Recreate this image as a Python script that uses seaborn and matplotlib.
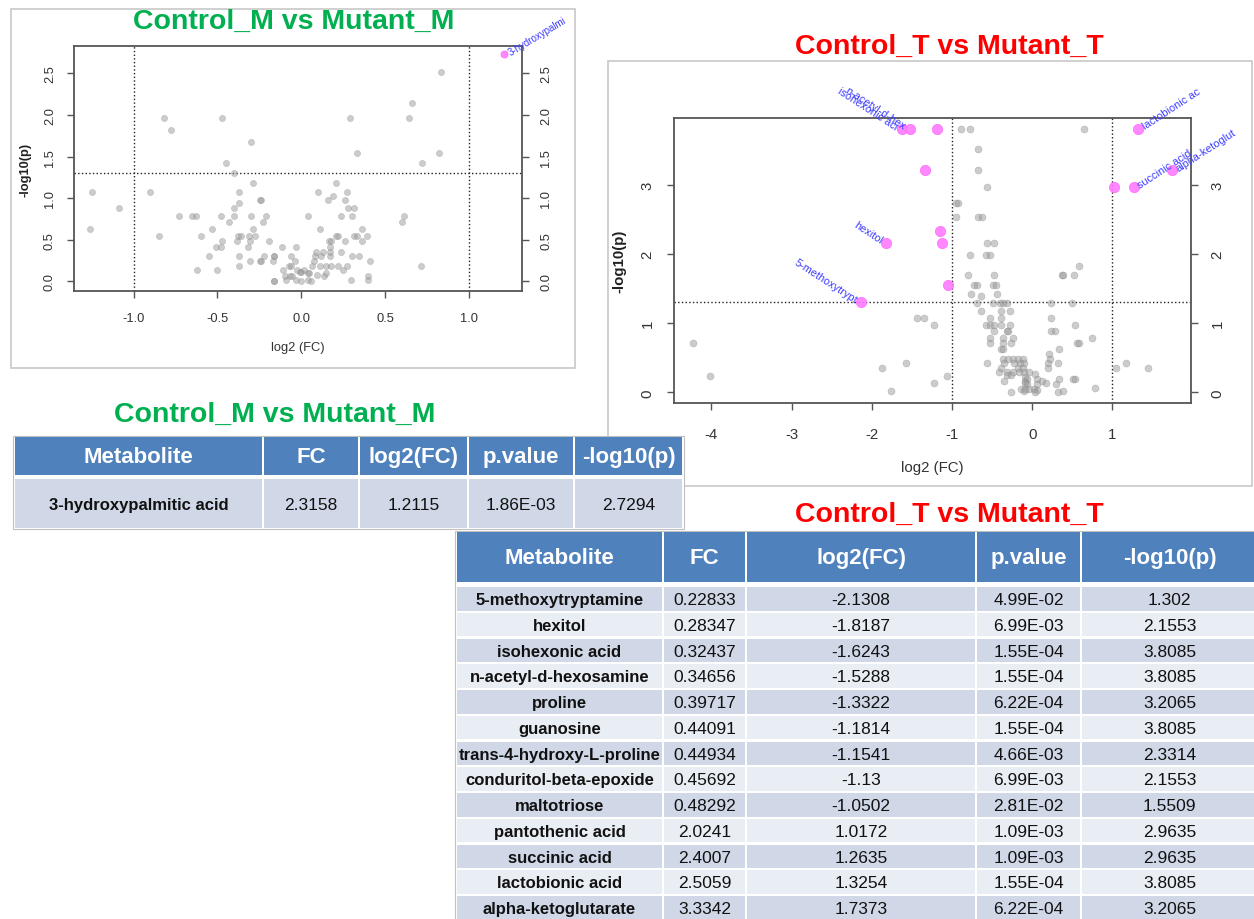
import numpy as np
import matplotlib
matplotlib.use('Agg')
import matplotlib.pyplot as plt
from matplotlib.patches import Rectangle
import seaborn as sns

# ---- volcano data: Control_M vs Mutant_M (grey, not significant) ----
m_log2fc = [-1.25, -1.26, -1.09, -0.90, -0.85, -0.82, -0.78, -0.73, -0.65, -0.63,
            -0.62, -0.60, -0.55, -0.53, -0.51, -0.48, -0.50, -0.48, -0.47, -0.47,
            -0.45, -0.43, -0.40, -0.40, -0.40, -0.38, -0.36, -0.385, -0.37, -0.37,
            -0.37, -0.37, -0.32, -0.31, -0.305, -0.30, -0.30, -0.305, -0.29, -0.29,
            -0.275, -0.245, -0.24, -0.245, -0.24, -0.225, -0.23, -0.21, -0.19, -0.165,
            -0.16, -0.17, -0.165, -0.16, -0.115, -0.11, -0.095, -0.09, -0.075, -0.06,
            -0.07, -0.06, -0.055, -0.04, -0.03, -0.03, -0.025, -0.01, 0.0, 0.0,
            0.015, 0.04, 0.045, 0.04, 0.04, 0.06, 0.065, 0.075, 0.08, 0.09,
            0.095, 0.10, 0.11, 0.11, 0.12, 0.13, 0.135, 0.145, 0.15, 0.16,
            0.165, 0.175, 0.17, 0.17, 0.17, 0.175, 0.19, 0.21, 0.205, 0.22,
            0.22, 0.235, 0.24, 0.25, 0.26, 0.26, 0.27, 0.27, 0.28, 0.315,
            0.29, 0.30, 0.295, 0.30, 0.315, 0.33, 0.33, 0.345, 0.36, 0.365,
            0.39, 0.40, 0.40, 0.41, 0.60, 0.61, 0.64, 0.66, 0.715, 0.72,
            0.82, 0.835]
m_neglogp = [1.07, 0.63, 0.88, 1.07, 0.55, 1.97, 1.82, 0.79, 0.79, 0.79,
             0.14, 0.55, 0.30, 0.63, 0.41, 0.41, 0.14, 0.79, 1.97, 0.48,
             1.42, 0.71, 0.79, 0.88, 1.30, 0.55, 0.55, 0.48, 1.07, 0.94,
             0.30, 0.19, 0.41, 0.55, 0.48, 1.68, 0.79, 0.24, 0.63, 1.18,
             0.55, 0.24, 0.24, 0.98, 0.98, 0.30, 0.71, 0.79, 0.48, 0.30,
             0.30, 0.24, 0.0, 0.0, 0.41, 0.14, 0.07, 0.02, 0.19, 0.19,
             0.07, 0.30, 0.06, 0.24, 0.41, 0.02, 0.14, 0.11, 0.11, 0.0,
             0.14, 0.10, 0.10, 0.02, 0.79, 0.01, 0.19, 0.24, 0.30, 0.35,
             0.08, 1.07, 0.63, 0.19, 0.30, 0.35, 0.07, 0.19, 0.10, 0.98,
             0.48, 0.48, 0.41, 0.30, 0.35, 0.19, 1.03, 1.18, 0.55, 0.55,
             0.19, 0.79, 0.35, 0.14, 0.98, 0.48, 1.07, 0.19, 0.88, 0.88,
             1.97, 0.30, 0.02, 0.79, 0.55, 0.55, 1.54, 0.30, 0.63, 0.48,
             0.55, 0.06, 0.02, 0.24, 0.71, 0.79, 1.97, 2.15, 0.19, 1.42,
             1.54, 2.52]

# ---- volcano data: Control_T vs Mutant_T (grey, not significant) ----
t_log2fc = [-4.23, -4.02, -1.87, -1.76, -1.57, -1.43, -1.35, -1.23, -1.22, -1.06,
            -0.89, -0.78, -0.67, -0.67, -0.56, -0.95, -0.93, -0.95, -0.67, -0.62,
            -0.56, -0.47, -0.77, -0.57, -0.52, -0.80, -0.47, -0.72, -0.69, -0.49,
            -0.45, -0.76, -0.64, -0.44, -0.69, -0.49, -0.40, -0.36, -0.32, -0.64,
            -0.39, -0.28, -0.53, -0.39, -0.58, -0.53, -0.48, -0.39, -0.28, -0.48,
            -0.32, -0.30, -0.53, -0.36, -0.24, -0.53, -0.36, -0.27, -0.39, -0.36,
            -0.36, -0.30, -0.24, -0.18, -0.11, -0.56, -0.35, -0.23, -0.15, -0.10,
            0.20, 0.32, -0.39, -0.18, -0.11, -0.41, -0.32, -0.24, -0.17, -0.10,
            -0.04, -0.31, -0.27, -0.35, -0.09, -0.09, -0.06, 0.06, 0.12, 0.04,
            -0.09, -0.06, 0.06, 0.17, -0.14, -0.09, -0.04, 0.02, 0.06, -0.27,
            -0.10, 0.04, 0.24, 0.23, 0.24, 0.29, 0.21, 0.22, 0.20, 0.34,
            0.34, 0.37, 0.39, 0.52, 0.59, 0.50, 0.53, 0.56, 0.59, 0.74,
            0.30, 0.32, 0.38, 0.51, 0.53, 0.78, 0.65, 1.04, 1.17, 1.44]
t_neglogp = [0.71, 0.24, 0.35, 0.02, 0.42, 1.08, 1.08, 0.98, 0.14, 0.24,
             3.81, 3.81, 3.51, 3.21, 2.97, 2.74, 2.74, 2.53, 2.53, 2.53,
             2.16, 2.16, 1.98, 1.98, 1.98, 1.69, 1.69, 1.55, 1.55, 1.55,
             1.55, 1.42, 1.39, 1.42, 1.29, 1.29, 1.29, 1.29, 1.29, 1.18,
             1.18, 1.18, 1.08, 1.08, 0.98, 0.98, 0.98, 0.98, 0.98, 0.88,
             0.88, 0.88, 0.79, 0.79, 0.79, 0.71, 0.71, 0.71, 0.63, 0.63,
             0.48, 0.48, 0.48, 0.48, 0.48, 0.42, 0.42, 0.42, 0.42, 0.42,
             0.42, 0.42, 0.35, 0.35, 0.35, 0.30, 0.30, 0.30, 0.30, 0.30,
             0.30, 0.25, 0.25, 0.17, 0.17, 0.22, 0.19, 0.19, 0.17, 0.27,
             0.14, 0.12, 0.12, 0.14, 0.05, 0.05, 0.05, 0.05, 0.03, 0.01,
             0.02, 0.01, 1.08, 1.29, 0.88, 0.88, 0.55, 0.48, 0.35, 0.63,
             0.19, 1.69, 1.69, 1.69, 1.83, 1.29, 0.98, 0.71, 0.71, 0.79,
             0.12, 0.0, 0.02, 0.19, 0.19, 0.06, 3.81, 0.35, 0.42, 0.35]

# ---- significant metabolites (tables + pink points) ----
m_names = ['3-hydroxypalmitic acid']
m_fc = [2.3158]
m_sig_log2fc = [1.2115]
m_pvalue = [1.86e-03]
m_sig_neglogp = [2.7294]

t_names = ['5-methoxytryptamine', 'hexitol', 'isohexonic acid', 'n-acetyl-d-hexosamine',
           'proline', 'guanosine', 'trans-4-hydroxy-L-proline', 'conduritol-beta-epoxide',
           'maltotriose', 'pantothenic acid', 'succinic acid', 'lactobionic acid',
           'alpha-ketoglutarate']
t_fc = [0.22833, 0.28347, 0.32437, 0.34656, 0.39717, 0.44091, 0.44934, 0.45692,
        0.48292, 2.0241, 2.4007, 2.5059, 3.3342]
t_sig_log2fc = [-2.1308, -1.8187, -1.6243, -1.5288, -1.3322, -1.1814, -1.1541, -1.13,
                -1.0502, 1.0172, 1.2635, 1.3254, 1.7373]
t_pvalue = [4.99e-02, 6.99e-03, 1.55e-04, 1.55e-04, 6.22e-04, 1.55e-04, 4.66e-03,
            6.99e-03, 2.81e-02, 1.09e-03, 1.09e-03, 1.55e-04, 6.22e-04]
t_sig_neglogp = [1.302, 2.1553, 3.8085, 3.8085, 3.2065, 3.8085, 2.3314, 2.1553,
                 1.5509, 2.9635, 2.9635, 3.8085, 3.2065]

m_labeled = ['3-hydroxypalmitic acid']
t_labeled = ['5-methoxytryptamine', 'hexitol', 'isohexonic acid', 'n-acetyl-d-hexosamine',
             'succinic acid', 'lactobionic acid', 'alpha-ketoglutarate']

table_headers = ['Metabolite', 'FC', 'log2(FC)', 'p.value', '-log10(p)']
title_m = 'Control_M vs Mutant_M'
title_t = 'Control_T vs Mutant_T'

sns.set_style('white')
plt.rcParams['font.family'] = ['Liberation Sans', 'DejaVu Sans']
plt.rcParams['axes.unicode_minus'] = False

W, H = 1254, 920
fig = plt.figure(figsize=(W / 100, H / 100), dpi=100)


def px_rect(x0, y0, x1, y1):
    return [x0 / W, 1 - y1 / H, (x1 - x0) / W, (y1 - y0) / H]


def pixel_axes(z):
    a = fig.add_axes([0, 0, 1, 1], zorder=z)
    a.set_xlim(0, W)
    a.set_ylim(H, 0)
    a.axis('off')
    return a


bg = pixel_axes(0)
bg.add_patch(Rectangle((11, 10), 564, 359, fill=False, ec='#c8c8c8', lw=1.2))
bg.add_patch(Rectangle((608, 62), 644, 425, fill=False, ec='#c8c8c8', lw=1.2))

GREEN = '#00b050'
RED = '#ff0000'
TITLE_FS = 20.5
bg.text(294, 22, title_m, color=GREEN, fontsize=TITLE_FS, fontweight='bold', ha='center', va='center')
bg.text(949, 47, title_t, color=RED, fontsize=TITLE_FS, fontweight='bold', ha='center', va='center')


def volcano(ax, gx, gy, names, sx, sy, labeled, xlim, ylim, xticks, yticks,
            fs, gsize, hsize, rot, lab_fs, xlab_y, ylab_x, pads):
    sns.scatterplot(x=gx, y=gy, ax=ax, color='#9a9a9a', alpha=0.5, s=gsize,
                    edgecolor='#7a7a7a', linewidth=0.3, legend=False, zorder=3)
    sns.scatterplot(x=sx, y=sy, ax=ax, color='#ff7aff', alpha=0.9, s=hsize,
                    edgecolor='#ff60ff', linewidth=0.5, legend=False, zorder=4, clip_on=False)
    for v in (-1, 1):
        ax.axvline(v, ls=':', color='#222222', lw=1.0, zorder=2)
    ax.axhline(-np.log10(0.05), ls=':', color='#222222', lw=1.0, zorder=2)
    for x, y, n in zip(sx, sy, names):
        if n not in labeled:
            continue
        if x > 0:
            ax.annotate(n[:14], (x, y), xytext=(3.5, 1.5), textcoords='offset points',
                        rotation=rot, rotation_mode='anchor', ha='left', va='center',
                        color='#3a3aff', fontsize=lab_fs, annotation_clip=False, zorder=5)
        else:
            ax.annotate(n[:14], (x, y), xytext=(-3.5, 1.5), textcoords='offset points',
                        rotation=-rot, rotation_mode='anchor', ha='right', va='center',
                        color='#3a3aff', fontsize=lab_fs, annotation_clip=False, zorder=5)
    ax.set_xlim(*xlim)
    ax.set_ylim(*ylim)
    ax.set_xticks(xticks[0], xticks[1])
    ax.set_yticks(yticks[0], yticks[1])
    ax.tick_params(axis='both', direction='out', length=5, width=1.0, color='#555555',
                   labelsize=fs, labelcolor='#333333')
    ax.tick_params(axis='x', bottom=True, pad=pads[0])
    ax.tick_params(axis='y', left=True, right=True, labelleft=True, labelright=True, pad=pads[1])
    for t in ax.yaxis.get_major_ticks():
        for lab in (t.label1, t.label2):
            lab.set_rotation(90)
            lab.set_va('center')
    for sp in ax.spines.values():
        sp.set_color('#555555')
        sp.set_linewidth(1.3)
    ax.set_xlabel('log2 (FC)', fontsize=fs, color='#333333')
    ax.set_ylabel('-log10(p)', fontsize=fs, color='#222222', fontweight='bold')
    ax.xaxis.label.set_va('center')
    ax.yaxis.label.set_va('center')
    ax.xaxis.set_label_coords(0.5, xlab_y)
    ax.yaxis.set_label_coords(ylab_x, 0.5)


ax_m = fig.add_axes(px_rect(74, 47, 522, 292), zorder=1)
volcano(ax_m, m_log2fc, m_neglogp, m_names, m_sig_log2fc, m_sig_neglogp, m_labeled,
        (-1.356, 1.317), (-0.116, 2.83),
        ([-1, -0.5, 0, 0.5, 1], ['-1.0', '-0.5', '0.0', '0.5', '1.0']),
        ([0, 0.5, 1, 1.5, 2, 2.5], ['0.0', '0.5', '1.0', '1.5', '2.0', '2.5']),
        9.3, 20, 26, 31, 7.0, -0.229, -0.109, (10, 8))

ax_t = fig.add_axes(px_rect(674, 119, 1191, 404), zorder=1)
volcano(ax_t, t_log2fc, t_neglogp, t_names, t_sig_log2fc, t_sig_neglogp, t_labeled,
        (-4.465, 1.98), (-0.154, 3.965),
        ([-4, -3, -2, -1, 0, 1], ['-4', '-3', '-2', '-1', '0', '1']),
        ([0, 1, 2, 3], ['0', '1', '2', '3']),
        10.8, 26, 55, 33, 7.8, -0.2246, -0.106, (12, 9))

# ---- tables ----
fg = pixel_axes(5)
HEAD = '#4f81bd'
ROW_DARK = '#d0d8e8'
ROW_LIGHT = '#e9edf4'


def draw_table(x_edges, head_top, head_bot, row_top0, row_pitch, row_h, rows):
    fg.add_patch(Rectangle((x_edges[0] - 1, head_top - 1), x_edges[-1] - x_edges[0] + 2,
                           row_top0 + row_pitch * (len(rows) - 1) + row_h - head_top + 2,
                           fc='white', ec='#c0c0c0', lw=0.8))
    for i, h in enumerate(table_headers):
        x0, x1 = x_edges[i] + 1, x_edges[i + 1] - 1
        fg.add_patch(Rectangle((x0, head_top), x1 - x0, head_bot - head_top, fc=HEAD, ec='none'))
        fg.text((x0 + x1) / 2, (head_top + head_bot) / 2 + 1, h, color='white', fontsize=16,
                fontweight='bold', ha='center', va='center')
    for r, row in enumerate(rows):
        top = row_top0 + r * row_pitch
        col = ROW_DARK if r % 2 == 0 else ROW_LIGHT
        for i, val in enumerate(row):
            x0, x1 = x_edges[i] + 1, x_edges[i + 1] - 1
            fg.add_patch(Rectangle((x0, top), x1 - x0, row_h, fc=col, ec='none'))
            fg.text((x0 + x1) / 2, top + row_h / 2 + 1, val, color='#111111',
                    fontsize=12 if i == 0 else 12.5, fontweight='bold' if i == 0 else 'normal',
                    ha='center', va='center')


def table_rows(names, fc, lfc, p, nlp):
    return [[n, str(a), str(b), f'{c:.2E}', str(d)] for n, a, b, c, d in zip(names, fc, lfc, p, nlp)]


fg.text(275, 415, title_m, color=GREEN, fontsize=TITLE_FS, fontweight='bold', ha='center', va='center')
draw_table([14, 263, 359, 468, 574, 683], 438, 476, 480, 49, 49,
           table_rows(m_names, m_fc, m_sig_log2fc, m_pvalue, m_sig_neglogp))

fg.text(949, 515, title_t, color=RED, fontsize=TITLE_FS, fontweight='bold', ha='center', va='center')
draw_table([456, 663, 746, 976, 1081, 1258], 533, 583, 588, 25.75, 23.5,
           table_rows(t_names, t_fc, t_sig_log2fc, t_pvalue, t_sig_neglogp))

fig.savefig('out.png', dpi=100)
